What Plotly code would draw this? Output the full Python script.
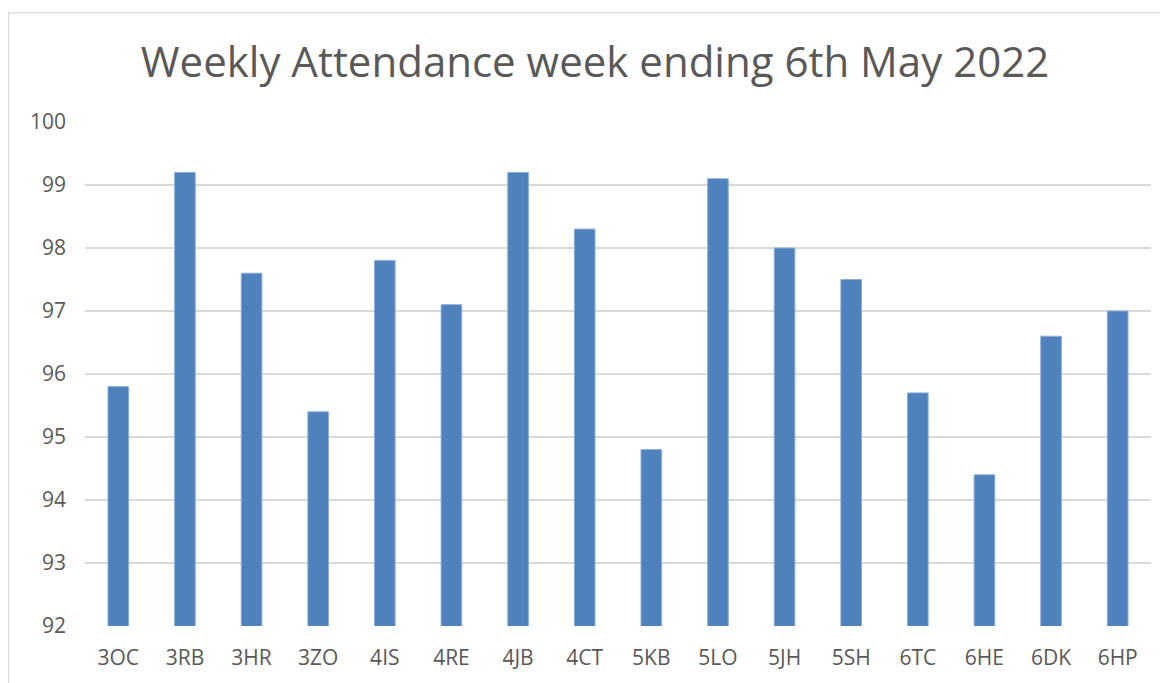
import plotly.graph_objects as go

classes = ["3OC", "3RB", "3HR", "3ZO", "4IS", "4RE", "4JB", "4CT",
           "5KB", "5LO", "5JH", "5SH", "6TC", "6HE", "6DK", "6HP"]
attendance = [95.8, 99.2, 97.6, 95.4, 97.8, 97.1, 99.2, 98.3,
              94.8, 99.1, 98.0, 97.5, 95.7, 94.4, 96.6, 97.0]
y_ticks = [92, 93, 94, 95, 96, 97, 98, 99, 100]
title_text = "Weekly Attendance week ending 6th May 2022"

FONT = "Open Sans, Noto Sans, Liberation Sans, sans-serif"
TEXT = "#595959"
GRID = "#D9D9D9"

# page body has an 8px default margin; figure coordinates = screen - 8
OFF = 8
W, H = 1168 - OFF, 683 - OFF
L = 85 - OFF
T = 122 - OFF
R = W - (1151 - OFF)
B = H - (630 - OFF)
pw, ph = W - L - R, H - T - B

def px_x(p):
    return (p - OFF - L) / pw

def px_y(p):
    return (H - B - (p - OFF)) / ph

fig = go.Figure(go.Bar(
    x=classes, y=attendance,
    marker=dict(color="#4F81BD", line=dict(color="#8EADD6", width=1)),
    width=0.31,
))

fig.update_layout(
    width=W, height=H,
    margin=dict(l=L, r=R, t=T, b=B, pad=0),
    paper_bgcolor="white", plot_bgcolor="white",
    showlegend=False,
    font=dict(family=FONT, color=TEXT, size=21),
    title=dict(text=title_text, x=(595 - OFF) / W, xanchor="center",
               y=1 - (62 - OFF) / H, yanchor="middle", yref="container", xref="container",
               font=dict(size=42, color=TEXT, family=FONT)),
    xaxis=dict(showgrid=False, showline=False, zeroline=False,
               ticks="", ticklabelstandoff=17, tickfont=dict(size=21, color=TEXT)),
    yaxis=dict(range=[92, 100], tickvals=y_ticks, showgrid=True,
               gridcolor=GRID, gridwidth=1.5, zeroline=False, showline=False,
               ticks="", ticklabelstandoff=18, tickfont=dict(size=21, color=TEXT)),
    shapes=[dict(type="rect", xref="paper", yref="paper",
                 x0=px_x(8.5), x1=px_x(1200), y0=px_y(720), y1=px_y(12),
                 line=dict(color=GRID, width=1.2), fillcolor="rgba(0,0,0,0)",
                 layer="below")],
)

fig.write_html("out.html")
